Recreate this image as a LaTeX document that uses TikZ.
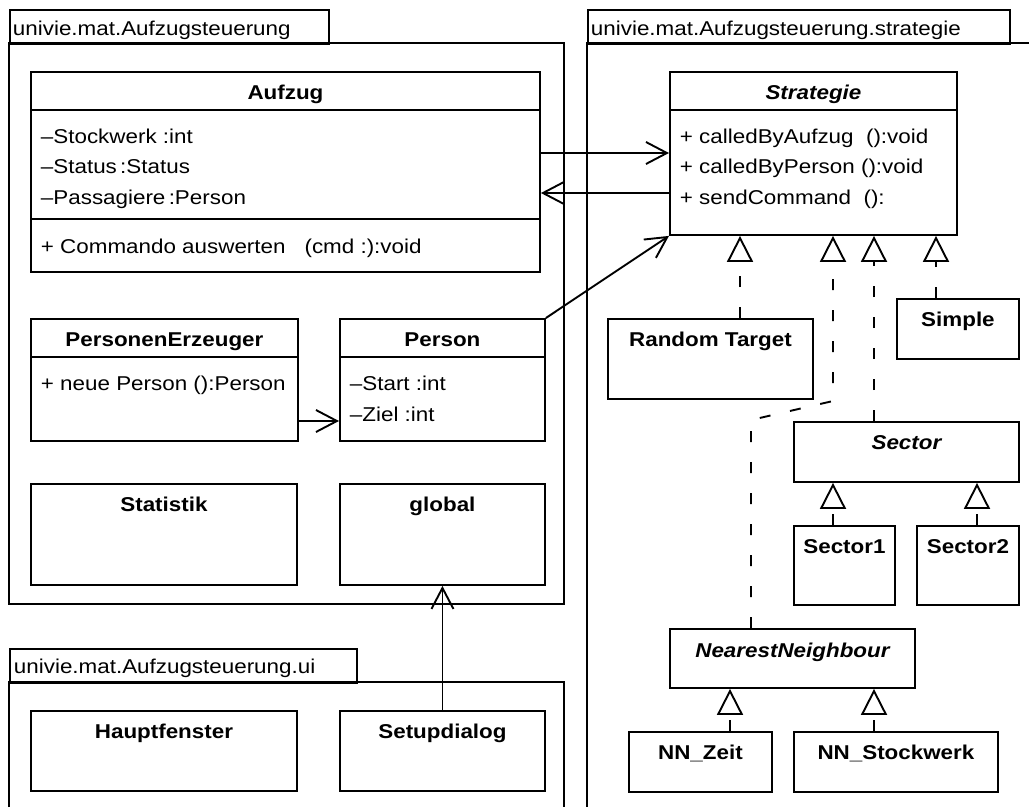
\documentclass[tikz,border=0pt]{standalone}
\usepackage{fontspec}
\setmainfont{Liberation Sans}[FakeStretch=1.12]
\usepackage{tikz}
\usetikzlibrary{arrows.meta, positioning}

\begin{document}
\begin{tikzpicture}[
  x=1pt, y=-1pt, line width=1.9pt,
  font=\fontsize{20}{24}\selectfont,
  pkgtab/.style={draw, anchor=north west, inner sep=0pt},
  pkglabel/.style={anchor=base west, inner sep=0pt},
  cls/.style={draw, anchor=north west, inner sep=0pt},
  ctitle/.style={anchor=base, inner sep=0pt, font=\fontsize{20}{24}\selectfont\bfseries},
  atitle/.style={ctitle, font=\fontsize{20}{24}\selectfont\bfseries\itshape},
  member/.style={anchor=base west, inner sep=0pt},
  assoc/.style={-{Straight Barb[length=21pt, width=22pt]}},
  inherit/.style={dash pattern=on 11pt off 20pt, -{Triangle[open, length=26pt, width=26pt]}}
]
  \path[fill=white, use as bounding box] (0,0) rectangle (1029,807);

  % packages
  \node[pkgtab, minimum width=319pt, minimum height=34pt] (pkgmain) at (9,9) {};
  \node[pkglabel] (pkgmainL) at (12,35) {univie.mat.Aufzugsteuerung};
  \draw (9,43) rectangle (564,604);
  \node[pkgtab, minimum width=422pt, minimum height=34pt] (pkgstrat) at (587,9) {};
  \node[pkglabel] (pkgstratL) at (590,35) {univie.mat.Aufzugsteuerung.strategie};
  \draw (1029,43) -- (587,43) -- (587,807);
  \node[pkgtab, minimum width=347pt, minimum height=34pt] (pkgui) at (9,648) {};
  \node[pkglabel] (pkguiL) at (13,673) {univie.mat.Aufzugsteuerung.ui};
  \draw (9,807) -- (9,682) -- (564,682) -- (564,807);

  % classes, package Aufzugsteuerung
  \node[cls, minimum width=509pt, minimum height=200pt] (aufzug) at (30,71) {};
  \node[ctitle] (aufzugT) at ([yshift=-28pt]aufzug.north) {Aufzug};
  \draw ([yshift=-39pt]aufzug.north west) -- ([yshift=-39pt]aufzug.north east);
  \draw ([yshift=-148pt]aufzug.north west) -- ([yshift=-148pt]aufzug.north east);
  \node[member] (aufzugA) at ([xshift=10pt, yshift=-72pt]aufzug.north west) {–Stockwerk :int};
  \node[member] (aufzugB) at ([xshift=10pt, yshift=-102pt]aufzug.north west) {–Status\,:Status};
  \node[member] (aufzugC) at ([xshift=10pt, yshift=-133pt]aufzug.north west) {–Passagiere\,:Person};
  \node[member] (aufzugM) at ([xshift=10pt, yshift=-182pt]aufzug.north west) {+ Commando auswerten\hspace{19pt}(cmd :):void};

  \node[cls, minimum width=267pt, minimum height=122pt] (perserz) at (30,318) {};
  \node[ctitle] (perserzT) at ([yshift=-28pt]perserz.north) {PersonenErzeuger};
  \draw ([yshift=-39pt]perserz.north west) -- ([yshift=-39pt]perserz.north east);
  \node[member] (perserzM) at ([xshift=10pt, yshift=-72pt]perserz.north west) {+ neue Person ():Person};

  \node[cls, minimum width=205pt, minimum height=122pt] (person) at (339,318) {};
  \node[ctitle] (personT) at ([yshift=-28pt]person.north) {Person};
  \draw ([yshift=-39pt]person.north west) -- ([yshift=-39pt]person.north east);
  \node[member] (personA) at ([xshift=10pt, yshift=-72pt]person.north west) {–Start :int};
  \node[member] (personB) at ([xshift=10pt, yshift=-103pt]person.north west) {–Ziel :int};

  \node[cls, minimum width=266pt, minimum height=101pt] (statistik) at (30,483) {};
  \node[ctitle] (statistikT) at ([yshift=-28pt]statistik.north) {Statistik};
  \node[cls, minimum width=205pt, minimum height=101pt] (global) at (339,483) {};
  \node[ctitle] (globalT) at ([yshift=-28pt]global.north) {global};

  % classes, package ui
  \node[cls, minimum width=266pt, minimum height=80pt] (haupt) at (30,710) {};
  \node[ctitle] (hauptT) at ([yshift=-28pt]haupt.north) {Hauptfenster};
  \node[cls, minimum width=205pt, minimum height=80pt] (setup) at (339,710) {};
  \node[ctitle] (setupT) at ([yshift=-28pt]setup.north) {Setupdialog};

  % classes, package strategie
  \node[cls, minimum width=287pt, minimum height=163pt] (strategie) at (669,71) {};
  \node[atitle] (strategieT) at ([yshift=-28pt]strategie.north) {Strategie};
  \draw ([yshift=-39pt]strategie.north west) -- ([yshift=-39pt]strategie.north east);
  \node[member] (strategieA) at ([xshift=10pt, yshift=-72pt]strategie.north west) {+ calledByAufzug \ ():void};
  \node[member] (strategieB) at ([xshift=10pt, yshift=-102pt]strategie.north west) {+ calledByPerson ():void};
  \node[member] (strategieC) at ([xshift=10pt, yshift=-133pt]strategie.north west) {+ sendCommand \ ():};

  \node[cls, minimum width=205pt, minimum height=80pt] (random) at (607,318) {};
  \node[ctitle] (randomT) at ([yshift=-28pt]random.north) {Random Target};
  \node[cls, minimum width=122pt, minimum height=60pt] (simple) at (896,298) {};
  \node[ctitle] (simpleT) at ([yshift=-28pt]simple.north) {Simple};
  \node[cls, minimum width=225pt, minimum height=60pt] (sector) at (793,421) {};
  \node[atitle] (sectorT) at ([yshift=-28pt]sector.north) {Sector};
  \node[cls, minimum width=101pt, minimum height=79pt] (sector1) at (793,525) {};
  \node[ctitle] (sector1T) at ([yshift=-28pt]sector1.north) {Sector1};
  \node[cls, minimum width=102pt, minimum height=79pt] (sector2) at (916,525) {};
  \node[ctitle] (sector2T) at ([yshift=-28pt]sector2.north) {Sector2};
  \node[cls, minimum width=245pt, minimum height=59pt] (nn) at (669,628) {};
  \node[atitle] (nnT) at ([yshift=-29pt]nn.north) {NearestNeighbour};
  \node[cls, minimum width=143pt, minimum height=60pt] (nnzeit) at (628,731) {};
  \node[ctitle] (nnzeitT) at ([yshift=-28pt]nnzeit.north) {NN\_Zeit};
  \node[cls, minimum width=204pt, minimum height=60pt] (nnstock) at (793,731) {};
  \node[ctitle] (nnstockT) at ([yshift=-28pt]nnstock.north) {NN\_Stockwerk};

  % associations
  \draw[assoc] ([yshift=-82pt]aufzug.north east) -- ([yshift=-82pt]strategie.north west);
  \draw[assoc] ([yshift=-122pt]strategie.north west) -- ([yshift=-122pt]aufzug.north east);
  \draw[assoc] ([yshift=-103pt]perserz.north east) -- ([yshift=-103pt]person.north west);
  \draw[assoc] (person.north east) -- (strategie.south west);
  \draw[assoc] (setup.north) -- (global.south);

  % generalisations
  \coordinate (stA) at ([xshift=71pt]strategie.south west);
  \coordinate (stB) at ([xshift=164pt]strategie.south west);
  \coordinate (stC) at ([xshift=205pt]strategie.south west);
  \coordinate (stD) at ([xshift=267pt]strategie.south west);
  \coordinate (knickA) at (833,401);
  \coordinate (knickB) at (751,420);
  \draw[inherit] (stA |- random.north) -- (stA);
  \draw[inherit] (stD |- simple.north) -- (stD);
  \draw[inherit] (stC |- sector.north) -- (stC);
  \draw[inherit] (knickB |- nn.north) -- (knickB) -- (knickA) -- (stB);
  \coordinate (secA) at ([xshift=40pt]sector.south west);
  \coordinate (secB) at ([xshift=184pt]sector.south west);
  \draw[inherit] (secA |- sector1.north) -- (secA);
  \draw[inherit] (secB |- sector2.north) -- (secB);
  \coordinate (nnA) at ([xshift=61pt]nn.south west);
  \coordinate (nnB) at ([xshift=205pt]nn.south west);
  \draw[inherit] (nnA |- nnzeit.north) -- (nnA);
  \draw[inherit] (nnB |- nnstock.north) -- (nnB);
\end{tikzpicture}
\end{document}
